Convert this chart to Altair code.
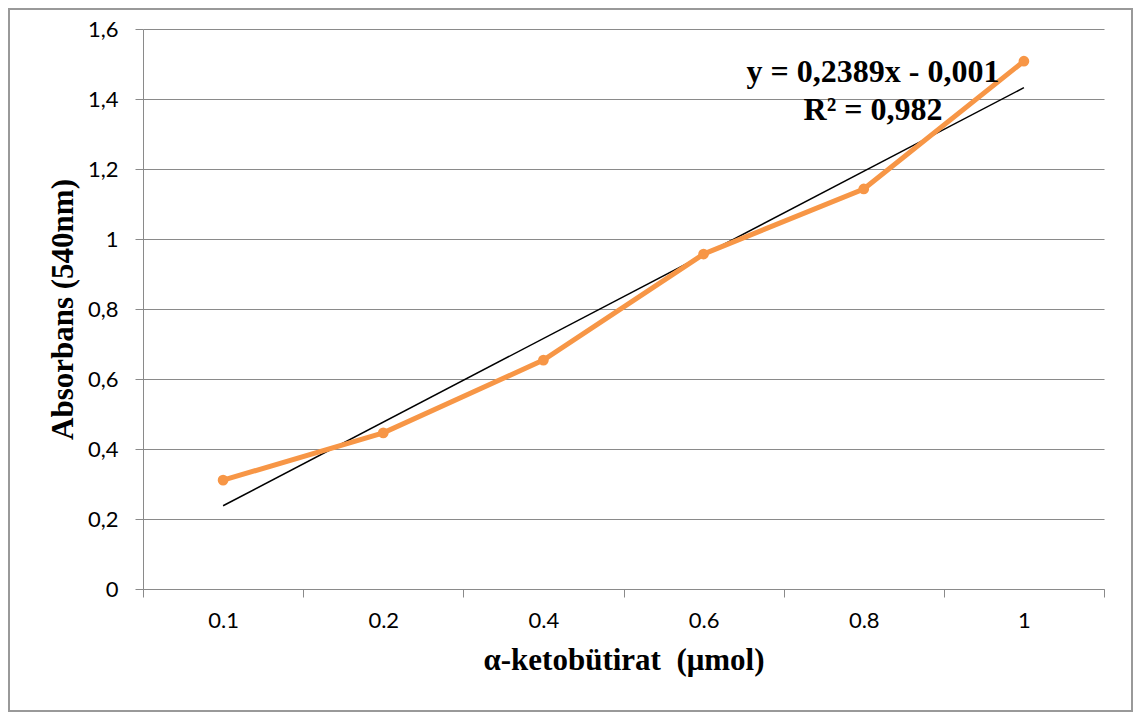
import altair as alt
import pandas as pd

# data
concentrations = ["0.1", "0.2", "0.4", "0.6", "0.8", "1"]
absorbance = [0.311, 0.446, 0.654, 0.957, 1.143, 1.508]

# linear trend line shown on the chart (Excel, x = category index 1..6)
slope = 0.2389
intercept = -0.001
trend_x = ["0.1", "1"]
trend_y = [slope * 1 + intercept, slope * 6 + intercept]

eq_line1 = "y = 0,2389x - 0,001"
eq_line2 = "R² = 0,982"

W, H = 961, 560
SERIF = "Liberation Serif"

df = pd.DataFrame({"conc": concentrations, "abs": absorbance})
tdf = pd.DataFrame({"conc": trend_x, "abs": trend_y})

xscale = alt.Scale(type="band", domain=concentrations, paddingInner=0, paddingOuter=0)
yscale = alt.Scale(domain=[0, 1.6], nice=False)

xaxis = alt.Axis(
    title="α-ketobütirat\u00a0 (μmol)",
    labelAngle=0,
    tickBand="extent",
    grid=False,
    labelPadding=13,
    titlePadding=14,
)
yaxis = alt.Axis(
    title="Absorbans (540nm)",
    values=[0, 0.2, 0.4, 0.6, 0.8, 1.0, 1.2, 1.4, 1.6],
    labelExpr="replace(format(datum.value, '.1~f'), '.', ',')",
    grid=True,
    gridColor="#8a8a8a",
    gridWidth=1.2,
    gridOpacity=1,
    labelPadding=17,
    titlePadding=8,
)

X = alt.X("conc:N", scale=xscale, axis=xaxis, sort=concentrations)
Y = alt.Y("abs:Q", scale=yscale, axis=yaxis)

base_line = alt.Chart(df).mark_line(color="#F79646", strokeWidth=5).encode(x=X, y=Y)
pts = alt.Chart(df).mark_point(filled=True, color="#F79646", size=115, opacity=1).encode(x=X, y=Y)
trend = alt.Chart(tdf).mark_line(color="#000000", strokeWidth=1.5).encode(x=X, y=Y)

one = pd.DataFrame({"a": [0]})
eq1 = alt.Chart(one).mark_text(
    text=eq_line1, font=SERIF, fontSize=32, fontWeight="bold", color="#000000",
    align="center", baseline="middle",
).encode(x=alt.value(730), y=alt.value(43))
eq2 = alt.Chart(one).mark_text(
    text=eq_line2, font=SERIF, fontSize=32, fontWeight="bold", color="#000000",
    align="center", baseline="middle",
).encode(x=alt.value(730), y=alt.value(81))

border = alt.Chart(one).mark_rect(
    fill="transparent", stroke="#999999", strokeWidth=2
).encode(
    x=alt.value(-134), x2=alt.value(989), y=alt.value(-20), y2=alt.value(682)
)

chart = alt.layer(trend, base_line, pts, eq1, eq2, border).properties(
    width=W, height=H,
    autosize=alt.AutoSizeParams(type="none"),
    padding={"left": 135, "top": 21, "right": 30, "bottom": 123},
    background="white",
).configure_view(
    strokeWidth=0
).configure_axis(
    domainColor="#8a8a8a",
    tickColor="#8a8a8a",
    tickSize=8,
    labelFont="Lato",
    labelFontSize=22,
    labelColor="#000000",
    titleFont=SERIF,
    titleFontSize=31,
    titleFontWeight="bold",
    titleColor="#000000",
)

chart.save("out.html", embed_options={"renderer": "svg", "actions": False})
